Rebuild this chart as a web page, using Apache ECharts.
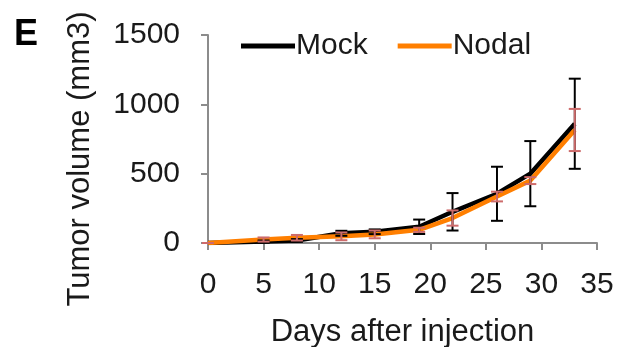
<!DOCTYPE html>
<html>
<head>
<meta charset="utf-8">
<script src="https://cdn.jsdelivr.net/npm/echarts@6/dist/echarts.min.js"></script>
<style>html,body{margin:0;padding:0;background:#fff}#c{width:619px;height:347px}</style>
</head>
<body>
<div id="c"></div>
<script>
var days = [0, 5, 8, 12, 15, 19, 22, 26, 29, 33];
var mock = [0, 10, 18, 70, 81, 117, 225, 355, 500, 860];
var mockErr = [0, 8, 10, 18, 17, 52, 135, 195, 235, 325];
var nodal = [0, 25, 38, 48, 62, 95, 180, 335, 450, 815];
var nodalErr = [0, 15, 20, 28, 28, 15, 55, 35, 25, 152];
var xTicks = [0, 5, 10, 15, 20, 25, 30, 35];
var yTicks = [0, 500, 1000, 1500];

var FONT = "'Liberation Sans', Arial, sans-serif";
var chart = echarts.init(document.getElementById('c'));

function pairs(xs, ys) { return xs.map(function (x, i) { return [x, ys[i]]; }); }
function errData(xs, ys, es) { return xs.map(function (x, i) { return [x, ys[i] - es[i], ys[i] + es[i]]; }); }
function errRender(color) {
  return function (params, api) {
    var lo = api.coord([api.value(0), api.value(1)]);
    var hi = api.coord([api.value(0), api.value(2)]);
    var w = 6;
    var st = { stroke: color, lineWidth: 2 };
    return {
      type: 'group',
      children: [
        { type: 'line', shape: { x1: lo[0], y1: lo[1], x2: hi[0], y2: hi[1] }, style: st },
        { type: 'line', shape: { x1: lo[0] - w, y1: lo[1], x2: lo[0] + w, y2: lo[1] }, style: st },
        { type: 'line', shape: { x1: hi[0] - w, y1: hi[1], x2: hi[0] + w, y2: hi[1] }, style: st }
      ]
    };
  };
}

chart.setOption({
  animation: false,
  textStyle: { fontFamily: FONT },
  graphic: [
    { type: 'text', left: 14, top: 17, style: { text: 'E', font: "bold 36px " + FONT, fill: '#000' } },
    { type: 'text', x: 80, y: 159, rotation: Math.PI / 2,
      style: { text: 'Tumor volume (mm3)', font: "31px " + FONT, fill: '#1a1a1a', align: 'center', verticalAlign: 'middle' } }
  ],
  legend: {
    left: 236, top: 26, icon: 'rect', itemWidth: 54, itemHeight: 5, itemGap: 30,
    textStyle: { fontSize: 30, color: '#1a1a1a', fontFamily: FONT, padding: [0, 0, 0, -4] },
    data: ['Mock', 'Nodal']
  },
  grid: { left: 208, right: 22, top: 35, bottom: 104, outerBoundsMode: 'none', containLabel: false },
  xAxis: {
    type: 'value', min: xTicks[0], max: xTicks[xTicks.length - 1], interval: 5,
    name: 'Days after injection', nameLocation: 'middle', nameGap: 74,
    nameTextStyle: { fontSize: 31, color: '#1a1a1a', fontFamily: FONT },
    axisLine: { lineStyle: { color: '#8c8c8c', width: 2 } },
    axisTick: { show: true, length: 7, lineStyle: { color: '#8c8c8c', width: 2 } },
    axisLabel: { fontSize: 30, color: '#1a1a1a', margin: 27, fontFamily: FONT },
    splitLine: { show: false }
  },
  yAxis: {
    type: 'value', min: yTicks[0], max: yTicks[yTicks.length - 1], interval: 500,
    axisLine: { show: true, lineStyle: { color: '#8c8c8c', width: 2 } },
    axisTick: { show: true, length: 7, lineStyle: { color: '#8c8c8c', width: 2 } },
    axisLabel: { fontSize: 30, color: '#1a1a1a', margin: 28, fontFamily: FONT,
      formatter: function (v) { return String(v); } },
    splitLine: { show: false }
  },
  series: [
    { name: 'Mock', type: 'line', data: pairs(days, mock), symbol: 'none', color: '#000',
      lineStyle: { color: '#000', width: 4.5 }, z: 2 },
    { name: 'Nodal', type: 'line', data: pairs(days, nodal), symbol: 'none', color: '#ff7f00',
      lineStyle: { color: '#ff7f00', width: 4.5 }, z: 3 },
    { type: 'custom', data: errData(days, mock, mockErr), renderItem: errRender('#000'), z: 4 },
    { type: 'custom', data: errData(days, nodal, nodalErr), renderItem: errRender('#cd6b6b'), z: 5 }
  ]
});
</script>
</body>
</html>
